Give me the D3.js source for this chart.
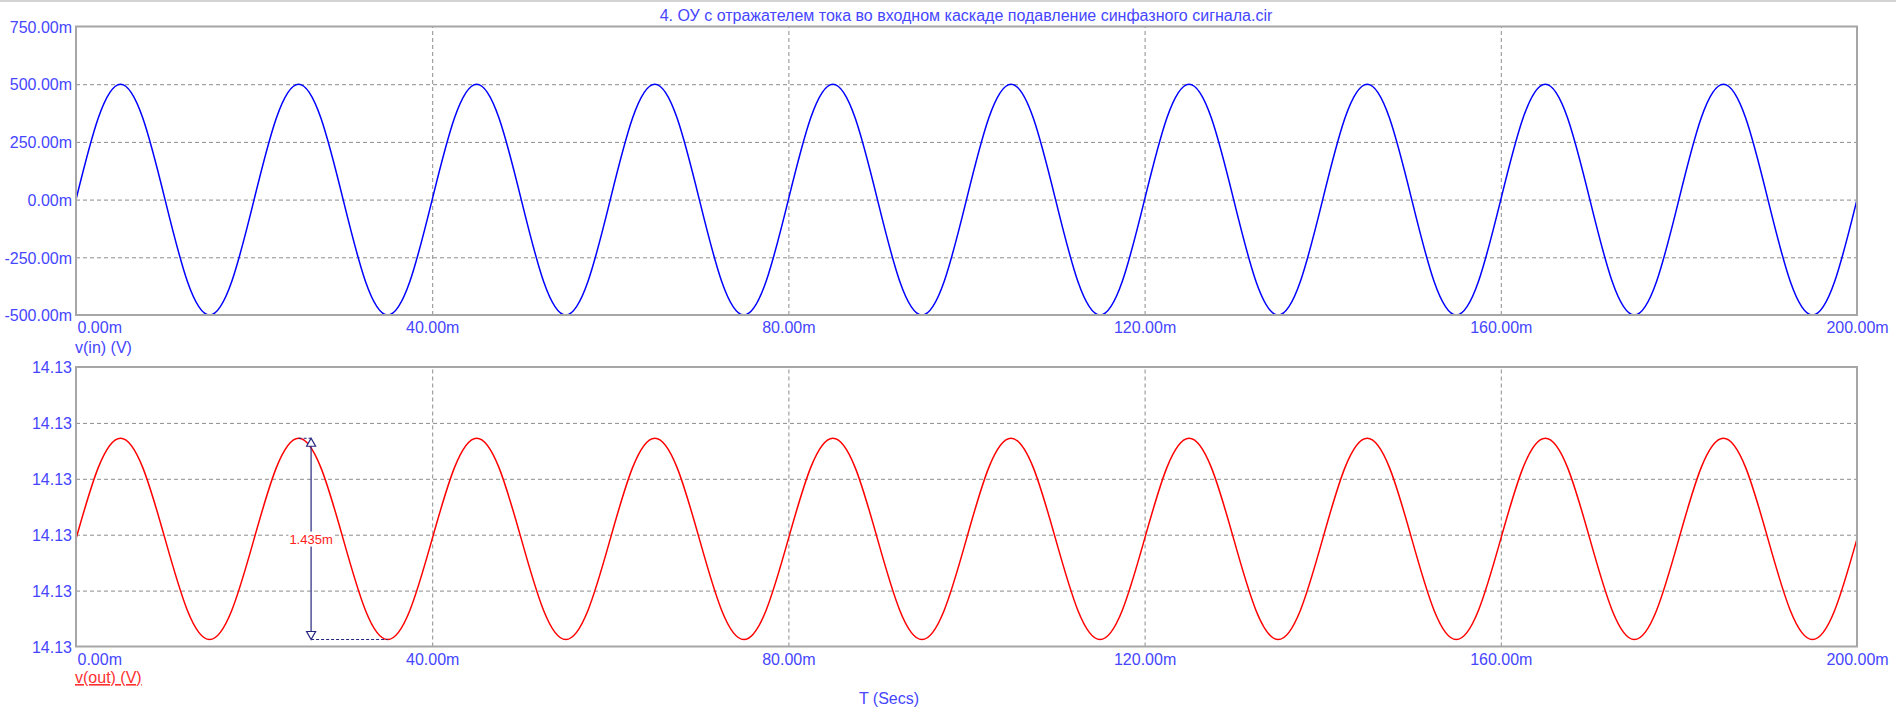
<!DOCTYPE html>
<html>
<head>
<meta charset="utf-8">
<script src="https://cdn.jsdelivr.net/npm/d3@7"></script>
<style>
  html, body { margin: 0; padding: 0; background: #fff; }
  svg { display: block; font-family: "Liberation Sans", Arial, sans-serif; }
</style>
</head>
<body>
<svg id="chart" width="1896" height="720"></svg>
<script>
// ---------- DATA ----------
const title = "4. ОУ с отражателем тока во входном каскаде подавление синфазного сигнала.cir";

// time, ms
const time = [
  0, 2.5, 5, 7.5, 10, 12.5, 15, 17.5,
  20, 22.5, 25, 27.5, 30, 32.5, 35, 37.5,
  40, 42.5, 45, 47.5, 50, 52.5, 55, 57.5,
  60, 62.5, 65, 67.5, 70, 72.5, 75, 77.5,
  80, 82.5, 85, 87.5, 90, 92.5, 95, 97.5,
  100, 102.5, 105, 107.5, 110, 112.5, 115, 117.5,
  120, 122.5, 125, 127.5, 130, 132.5, 135, 137.5,
  140, 142.5, 145, 147.5, 150, 152.5, 155, 157.5,
  160, 162.5, 165, 167.5, 170, 172.5, 175, 177.5,
  180, 182.5, 185, 187.5, 190, 192.5, 195, 197.5,
  200
];

// v(in), mV
const vin = [
  0, 353.6, 500, 353.6, 0, -353.6, -500, -353.6,
  0, 353.6, 500, 353.6, 0, -353.6, -500, -353.6,
  0, 353.6, 500, 353.6, 0, -353.6, -500, -353.6,
  0, 353.6, 500, 353.6, 0, -353.6, -500, -353.6,
  0, 353.6, 500, 353.6, 0, -353.6, -500, -353.6,
  0, 353.6, 500, 353.6, 0, -353.6, -500, -353.6,
  0, 353.6, 500, 353.6, 0, -353.6, -500, -353.6,
  0, 353.6, 500, 353.6, 0, -353.6, -500, -353.6,
  0, 353.6, 500, 353.6, 0, -353.6, -500, -353.6,
  0, 353.6, 500, 353.6, 0, -353.6, -500, -353.6,
  0
];

// v(out), V
const vout = [
  14.12877, 14.12928, 14.12949, 14.12928, 14.12877, 14.12826, 14.12805, 14.12826,
  14.12877, 14.12928, 14.12949, 14.12928, 14.12877, 14.12826, 14.12805, 14.12826,
  14.12877, 14.12928, 14.12949, 14.12928, 14.12877, 14.12826, 14.12805, 14.12826,
  14.12877, 14.12928, 14.12949, 14.12928, 14.12877, 14.12826, 14.12805, 14.12826,
  14.12877, 14.12928, 14.12949, 14.12928, 14.12877, 14.12826, 14.12805, 14.12826,
  14.12877, 14.12928, 14.12949, 14.12928, 14.12877, 14.12826, 14.12805, 14.12826,
  14.12877, 14.12928, 14.12949, 14.12928, 14.12877, 14.12826, 14.12805, 14.12826,
  14.12877, 14.12928, 14.12949, 14.12928, 14.12877, 14.12826, 14.12805, 14.12826,
  14.12877, 14.12928, 14.12949, 14.12928, 14.12877, 14.12826, 14.12805, 14.12826,
  14.12877, 14.12928, 14.12949, 14.12928, 14.12877, 14.12826, 14.12805, 14.12826,
  14.12877
];

const xTicks = [0, 40, 80, 120, 160, 200];
const xTickLabels = ["0.00m", "40.00m", "80.00m", "120.00m", "160.00m", "200.00m"];
const topTicks = [-500, -250, 0, 250, 500, 750];
const topTickLabels = ["-500.00m", "-250.00m", "0.00m", "250.00m", "500.00m", "750.00m"];
const botTicks = [14.1280, 14.1284, 14.1288, 14.1292, 14.1296, 14.1300];
const botTickLabels = ["14.13", "14.13", "14.13", "14.13", "14.13", "14.13"];

// measurement cursor: [peak time, cursor time, trough time] (ms), [peak, trough] (V)
const measureTimes = [25, 26.4, 35];
const measureValues = [14.12949, 14.12805];
const measureLabel = "1.435m";

const topLabel = "v(in) (V)";
const botLabel = "v(out) (V)";
const xTitle = "T (Secs)";

// ---------- LAYOUT ----------
const left = 76, right = 1857;
const topPlot = { y0: 26.5, y1: 315 };
const botPlot = { y0: 367, y1: 646.5 };
const textBlue = "#4646ff";
const gridColor = "#8c8c8c";
const frameColor = "#a6a6a6";

const svg = d3.select("#chart");

// page top line
svg.append("line").attr("x1", 0).attr("x2", 1896).attr("y1", 1).attr("y2", 1)
  .attr("stroke", "#d4d4d4").attr("stroke-width", 2);

const x = d3.scaleLinear().domain([0, 200]).range([left, right]);
const yTop = d3.scaleLinear().domain([-500, 750]).range([topPlot.y1, topPlot.y0]);
const yBot = d3.scaleLinear().domain([14.1280, 14.1300]).range([botPlot.y1, botPlot.y0]);

function panel(yScale, plot, yTicks, yLabels, values, color) {
  const g = svg.append("g");
  const h = plot.y1 - plot.y0;
  // horizontal grid
  g.append("g").attr("transform", `translate(${left},0)`)
    .call(d3.axisLeft(yScale).tickValues(yTicks.slice(1, -1)).tickSize(-(right - left)).tickFormat(""))
    .call(s => s.select(".domain").remove())
    .call(s => s.selectAll("line").attr("stroke", gridColor).attr("stroke-dasharray", "4,3"));
  // vertical grid
  g.append("g").attr("transform", `translate(0,${plot.y1})`)
    .call(d3.axisBottom(x).tickValues(xTicks.slice(1, -1)).tickSize(-h).tickFormat(""))
    .call(s => s.select(".domain").remove())
    .call(s => s.selectAll("line").attr("stroke", gridColor).attr("stroke-dasharray", "4,3"));
  // curve
  const line = d3.line().x((d, i) => x(time[i])).y(d => yScale(d)).curve(d3.curveNatural);
  g.append("path").datum(values).attr("d", line)
    .attr("fill", "none").attr("stroke", color).attr("stroke-width", 1.5);
  // frame
  g.append("rect").attr("x", left).attr("y", plot.y0).attr("width", right - left).attr("height", h)
    .attr("fill", "none").attr("stroke", frameColor).attr("stroke-width", 2);
  // y labels
  g.append("g").attr("transform", `translate(${left - 4},0)`)
    .call(d3.axisLeft(yScale).tickValues(yTicks).tickSize(0).tickPadding(0)
      .tickFormat((d, i) => yLabels[i]))
    .call(s => s.select(".domain").remove())
    .call(s => s.selectAll("text").attr("fill", textBlue).attr("font-size", 16)
      .attr("font-family", "Liberation Sans, Arial, sans-serif").attr("dy", "0.36em"));
  // x labels
  g.append("g").attr("transform", `translate(0,${plot.y1})`)
    .call(d3.axisBottom(x).tickValues(xTicks).tickSize(0).tickPadding(0)
      .tickFormat((d, i) => xTickLabels[i]))
    .call(s => s.select(".domain").remove())
    .call(s => s.selectAll("text").attr("fill", textBlue).attr("font-size", 16)
      .attr("font-family", "Liberation Sans, Arial, sans-serif").attr("dy", "1.15em")
      .attr("text-anchor", (d, i) => i === 0 ? "start" : "middle")
      .attr("dx", (d, i) => i === 0 ? 1 : 0));
  return g;
}

panel(yTop, topPlot, topTicks, topTickLabels, vin, "#0000ff");
panel(yBot, botPlot, botTicks, botTickLabels, vout, "#ff0000");

// title
svg.append("text").attr("x", 966).attr("y", 20.5).attr("text-anchor", "middle")
  .attr("font-size", 16).attr("fill", textBlue).text(title);

// series labels
svg.append("text").attr("x", 75).attr("y", 353).attr("font-size", 16)
  .attr("fill", textBlue).text(topLabel);
svg.append("text").attr("x", 75).attr("y", 683).attr("font-size", 16)
  .attr("fill", "#ff3030").attr("text-decoration", "underline").text(botLabel);

// x title
svg.append("text").attr("x", 889).attr("y", 704).attr("text-anchor", "middle")
  .attr("font-size", 16).attr("fill", textBlue).text(xTitle);

// measurement cursor
const mc = "#262680";
const xm = x(measureTimes[1]);
const yp = yBot(measureValues[0]);
const yt = yBot(measureValues[1]);
const ann = svg.append("g");
ann.append("line").attr("x1", x(measureTimes[0])).attr("x2", xm).attr("y1", yp).attr("y2", yp)
  .attr("stroke", mc).attr("stroke-width", 1.2).attr("stroke-dasharray", "3,2");
ann.append("line").attr("x1", xm).attr("x2", x(measureTimes[2])).attr("y1", yt).attr("y2", yt)
  .attr("stroke", mc).attr("stroke-width", 1.2).attr("stroke-dasharray", "3,2");
ann.append("line").attr("x1", xm).attr("x2", xm).attr("y1", yp + 8).attr("y2", yt - 8)
  .attr("stroke", mc).attr("stroke-width", 1.2);
ann.append("path").attr("d", `M${xm},${yp} L${xm - 4.5},${yp + 8} L${xm + 4.5},${yp + 8} Z`)
  .attr("fill", "#fff").attr("stroke", mc).attr("stroke-width", 1.2);
ann.append("path").attr("d", `M${xm},${yt} L${xm - 4.5},${yt - 8} L${xm + 4.5},${yt - 8} Z`)
  .attr("fill", "#fff").attr("stroke", mc).attr("stroke-width", 1.2);
const ym = (yp + yt) / 2;
const lbl = ann.append("text").attr("x", xm).attr("y", ym).attr("dy", "0.36em")
  .attr("text-anchor", "middle").attr("font-size", 13).attr("fill", "#ff2020").text(measureLabel);
const bb = lbl.node().getBBox();
ann.insert("rect", "text").attr("x", bb.x - 1).attr("y", bb.y).attr("width", bb.width + 2)
  .attr("height", bb.height).attr("fill", "#fff");
</script>
</body>
</html>
